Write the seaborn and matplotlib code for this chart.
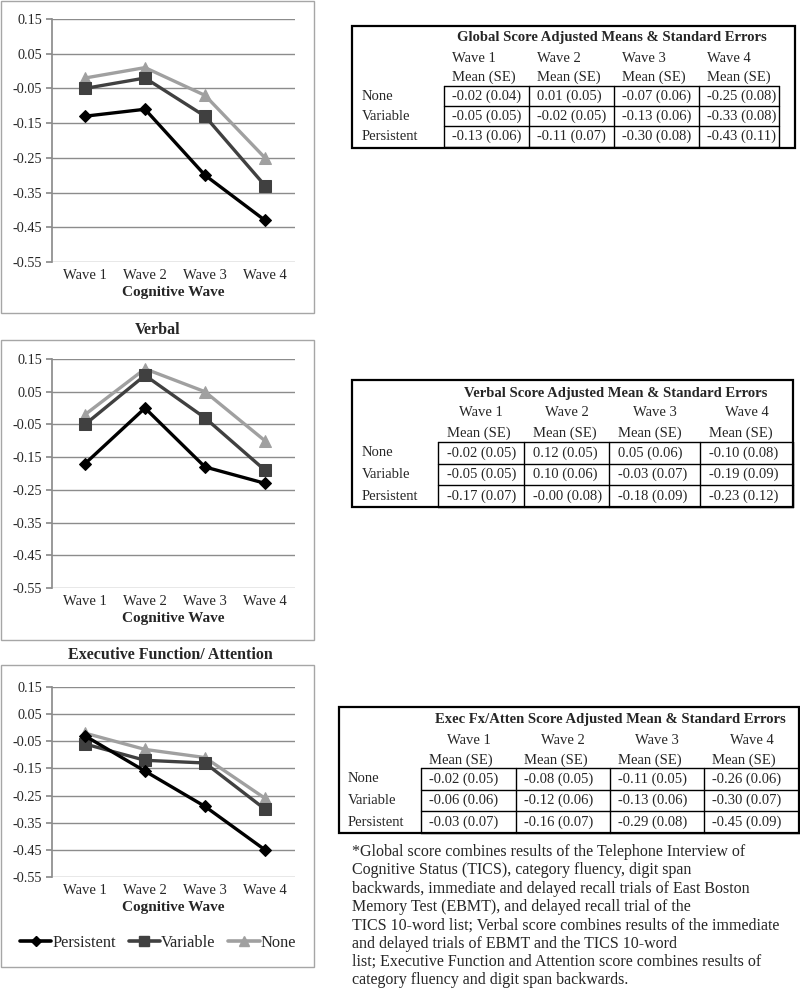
import matplotlib
matplotlib.use("Agg")
import matplotlib.pyplot as plt
from matplotlib.lines import Line2D
from matplotlib.patches import Rectangle
import seaborn as sns

# chart values (adjusted means and standard errors per wave)
WAVES = ["Wave 1", "Wave 2", "Wave 3", "Wave 4"]
GROUPS = ["None", "Variable", "Persistent"]
YTICKS = [-0.55, -0.45, -0.35, -0.25, -0.15, -0.05, 0.05, 0.15]

GLOBAL_NONE = [-0.02, 0.01, -0.07, -0.25]
GLOBAL_VARIABLE = [-0.05, -0.02, -0.13, -0.33]
GLOBAL_PERSISTENT = [-0.13, -0.11, -0.30, -0.43]
GLOBAL_NONE_SE = [0.04, 0.05, 0.06, 0.08]
GLOBAL_VARIABLE_SE = [0.05, 0.05, 0.06, 0.08]
GLOBAL_PERSISTENT_SE = [0.06, 0.07, 0.08, 0.11]

VERBAL_NONE = [-0.02, 0.12, 0.05, -0.10]
VERBAL_VARIABLE = [-0.05, 0.10, -0.03, -0.19]
VERBAL_PERSISTENT = [-0.17, -0.0, -0.18, -0.23]
VERBAL_NONE_SE = [0.05, 0.05, 0.06, 0.08]
VERBAL_VARIABLE_SE = [0.05, 0.06, 0.07, 0.09]
VERBAL_PERSISTENT_SE = [0.07, 0.08, 0.09, 0.12]

EXEC_NONE = [-0.02, -0.08, -0.11, -0.26]
EXEC_VARIABLE = [-0.06, -0.12, -0.13, -0.30]
EXEC_PERSISTENT = [-0.03, -0.16, -0.29, -0.45]
EXEC_NONE_SE = [0.05, 0.05, 0.05, 0.06]
EXEC_VARIABLE_SE = [0.06, 0.06, 0.06, 0.07]
EXEC_PERSISTENT_SE = [0.07, 0.07, 0.08, 0.09]

FOOTNOTE = [
    "*Global score combines results of the Telephone Interview of",
    "Cognitive Status (TICS), category fluency, digit span",
    "backwards, immediate and delayed recall trials of East Boston",
    "Memory Test (EBMT), and delayed recall trial of the",
    "TICS 10-word list; Verbal score combines results of the immediate",
    "and delayed trials of EBMT and the TICS 10-word",
    "list; Executive Function and Attention score combines results of",
    "category fluency and digit span backwards.",
]

COLORS = {"None": "#a0a0a0", "Variable": "#404040", "Persistent": "#000000"}
MARKERS = {"None": "^", "Variable": "s", "Persistent": "D"}
MSIZE = {"None": 8.5, "Variable": 8, "Persistent": 6}
TFS = 10.5  # table font size

sns.set_theme(style="white")
plt.rcParams["font.family"] = ["Liberation Serif", "DejaVu Serif"]

W, H = 800, 989
fig = plt.figure(figsize=(W / 100, H / 100), dpi=100)

# overlay in pixel coordinates for frames, tables and notes
ov = fig.add_axes([0, 0, 1, 1])
ov.set_xlim(0, W)
ov.set_ylim(H, 0)
ov.axis("off")


def px_axes(x0, y0, x1, y1):
    return fig.add_axes([x0 / W, 1 - y1 / H, (x1 - x0) / W, (y1 - y0) / H])


def draw_chart(ax, means):
    x = list(range(len(WAVES)))
    for g in GROUPS:
        sns.lineplot(x=x, y=means[g], ax=ax, color=COLORS[g], marker=MARKERS[g],
                     markersize=MSIZE[g], markeredgecolor=COLORS[g], linewidth=2.4)
    ax.set_xlim(-0.55, 3.5)
    ax.set_ylim(-0.55, 0.15)
    ax.set_yticks(YTICKS)
    ax.set_yticklabels([f"{t:.2f}" for t in YTICKS], fontsize=10.3)
    ax.set_xticks(x)
    ax.set_xticklabels(WAVES, fontsize=10.5)
    ax.yaxis.grid(True, color="#8c8c8c", linewidth=1)
    ax.set_axisbelow(True)
    for s in ["top", "right", "bottom"]:
        ax.spines[s].set_visible(False)
    ax.spines["left"].set_color("#8c8c8c")
    ax.tick_params(axis="y", length=4, color="#8c8c8c", pad=3, left=True)
    ax.tick_params(axis="x", length=0, pad=5)
    ax.set_xlabel("Cognitive Wave", fontsize=11, fontweight="bold", labelpad=3)
    ax.set_ylabel("")
    ax.patch.set_alpha(0)


def draw_table(title, means, ses, box, cols, rows, head_y, label_x, center_wave, pad):
    x0, y0, x1, y1 = box
    ov.add_patch(Rectangle((x0, y0), x1 - x0, y1 - y0, fill=False, ec="black", lw=1.6))
    for c in cols:
        ov.plot([c, c], [rows[0], rows[-1]], color="black", lw=1)
    for r in rows:
        ov.plot([cols[0], cols[-1]], [r, r], color="black", lw=1)
    ov.text((cols[0] + cols[-1]) / 2, head_y[0], title, fontsize=TFS, fontweight="bold",
            ha="center", va="center")
    for j, w in enumerate(WAVES):
        if center_wave:
            ov.text((cols[j] + cols[j + 1]) / 2, head_y[1], w, fontsize=TFS, ha="center", va="center")
        else:
            ov.text(cols[j] + pad, head_y[1], w, fontsize=TFS, ha="left", va="center")
        ov.text(cols[j] + pad, head_y[2], "Mean (SE)", fontsize=TFS, ha="left", va="center")
    for i, g in enumerate(GROUPS):
        ym = (rows[i] + rows[i + 1]) / 2
        ov.text(label_x, ym, g, fontsize=TFS, ha="left", va="center")
        for j in range(len(WAVES)):
            ov.text(cols[j] + pad, ym, f"{means[g][j]:.2f} ({ses[g][j]:.2f})",
                    fontsize=TFS, ha="left", va="center")


# chart frames
for fy0, fy1 in [(1, 313), (340, 640), (665, 967)]:
    ov.add_patch(Rectangle((1, fy0), 313, fy1 - fy0, fill=False, ec="#a6a6a6", lw=1))

global_means = {"None": GLOBAL_NONE, "Variable": GLOBAL_VARIABLE, "Persistent": GLOBAL_PERSISTENT}
global_ses = {"None": GLOBAL_NONE_SE, "Variable": GLOBAL_VARIABLE_SE, "Persistent": GLOBAL_PERSISTENT_SE}
verbal_means = {"None": VERBAL_NONE, "Variable": VERBAL_VARIABLE, "Persistent": VERBAL_PERSISTENT}
verbal_ses = {"None": VERBAL_NONE_SE, "Variable": VERBAL_VARIABLE_SE, "Persistent": VERBAL_PERSISTENT_SE}
exec_means = {"None": EXEC_NONE, "Variable": EXEC_VARIABLE, "Persistent": EXEC_PERSISTENT}
exec_ses = {"None": EXEC_NONE_SE, "Variable": EXEC_VARIABLE_SE, "Persistent": EXEC_PERSISTENT_SE}

ax1 = px_axes(52, 19, 295, 262)
draw_chart(ax1, global_means)
ax2 = px_axes(52, 359, 295, 588)
draw_chart(ax2, verbal_means)
ax3 = px_axes(52, 687, 295, 877)
draw_chart(ax3, exec_means)

ov.text(158, 330, "Verbal", fontsize=11.5, fontweight="bold", ha="center", va="center")
ov.text(170, 655, "Executive Function/ Attention", fontsize=11.5, fontweight="bold",
        ha="center", va="center")

handles = [Line2D([], [], color=COLORS[g], marker=MARKERS[g], markersize=MSIZE[g] * 0.85,
                  markeredgecolor=COLORS[g], linewidth=2.6) for g in ["Persistent", "Variable", "None"]]
fig.legend(handles, ["Persistent", "Variable", "None"], loc="center",
           bbox_to_anchor=(158 / W, 1 - 943 / H), ncol=3, frameon=False, fontsize=11.8,
           handlelength=1.9, handletextpad=0.05, columnspacing=0.8)

draw_table("Global Score Adjusted Means & Standard Errors", global_means, global_ses,
           (352, 26, 795, 148), [444, 529, 614, 699, 779], [86, 106, 126, 147],
           [38, 58, 77], 362, False, 8)
draw_table("Verbal Score Adjusted Mean & Standard Errors", verbal_means, verbal_ses,
           (352, 380, 793, 507), [438, 524, 609, 700, 793], [442, 464, 485, 507],
           [393, 413, 433], 362, True, 9)
draw_table("Exec Fx/Atten Score Adjusted Mean & Standard Errors", exec_means, exec_ses,
           (339, 707, 799, 833), [421, 516, 610, 704, 799], [768, 790, 811, 833],
           [720, 740, 760], 348, True, 8)

for k, line in enumerate(FOOTNOTE):
    ov.text(352, 852 + k * 18.3, line, fontsize=11.5, ha="left", va="center")

fig.savefig("out.png", dpi=100)
